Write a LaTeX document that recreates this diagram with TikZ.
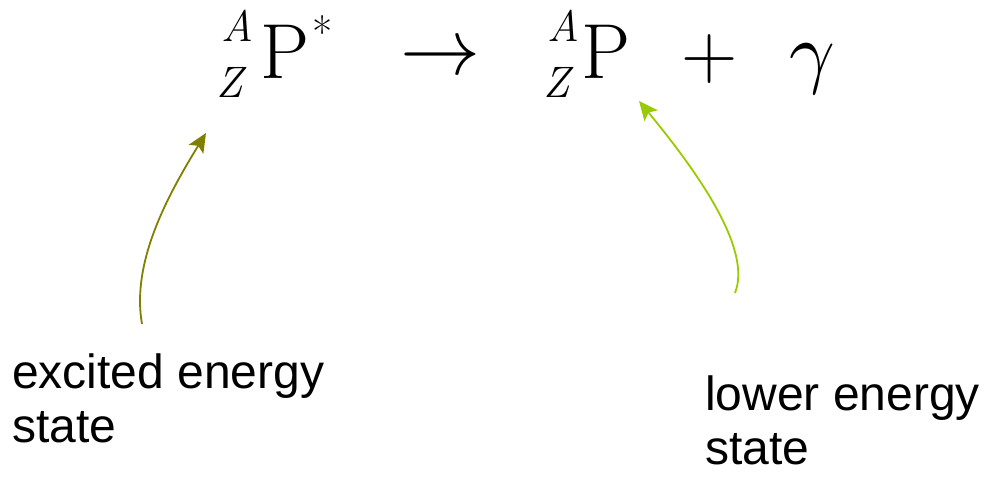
\documentclass[tikz,border=0pt]{standalone}
\usepackage{fontspec}
\newfontfamily\labelfont{Liberation Sans}
\usetikzlibrary{arrows.meta, positioning}
\definecolor{excitedolive}{HTML}{808000}
\definecolor{lowergreen}{HTML}{99CC00}

\begin{document}
\begin{tikzpicture}[x=1pt, y=-1pt,
                nucleus/.style={inner sep=0pt, anchor=base west, font=\fontsize{78}{90}\selectfont},
                index/.style={inner sep=0pt, anchor=base west, font=\fontsize{44}{50}\selectfont\itshape},
                symbol/.style={inner sep=0pt, font=\fontsize{78}{90}\selectfont},
                mathsymbol/.style={inner sep=0pt, scale=8, font=\normalsize},
                statelabel/.style={inner sep=0pt, anchor=north west, align=left, font=\labelfont\fontsize{48}{54}\selectfont},
                pointer/.style={line width=1.8pt, -{Stealth[length=19pt, width=17pt, inset=4pt]}}
            ]
            \useasboundingbox (0,0) rectangle (985,477);

            % Knoten: linke Seite
            \node[index] (A1) at (221,41) {A};
            \node[index] (Z1) at (216,97) {Z};
            \node[nucleus] (P1) at (260,78) {P};
            \node[index, font=\fontsize{44}{50}\selectfont] (S1) at (312,48) {*};
            \node[mathsymbol] (R1) at (440,60) {$\rightarrow$};

            % Knoten: rechte Seite
            \node[index] (A2) at (547,41) {A};
            \node[index] (Z2) at (543,97) {Z};
            \node[nucleus] (P2) at (581,78) {P};
            \node[symbol, anchor=base] (plus) at (710,78) {+};
            \node[mathsymbol, anchor=base] (gamma) at (812,78) {$\gamma$};

            % Beschriftungen
            \node[statelabel] (excited) at (12,354) {excited energy\\state};
            \node[statelabel] (lower) at (705,376) {lower energy\\state};

            % Pfeile
            \coordinate (excitedtail) at (142,324);
            \coordinate (excitedhead) at (206,133);
            \coordinate (lowertail) at (735,293);
            \coordinate (lowerhead) at (639,101);
            \draw[pointer, excitedolive] (excitedtail) .. controls (131,262) and (168,195) .. (excitedhead);
            \draw[pointer, lowergreen] (lowertail) .. controls (752,250) and (700,175) .. (lowerhead);

        \end{tikzpicture}
\end{document}
